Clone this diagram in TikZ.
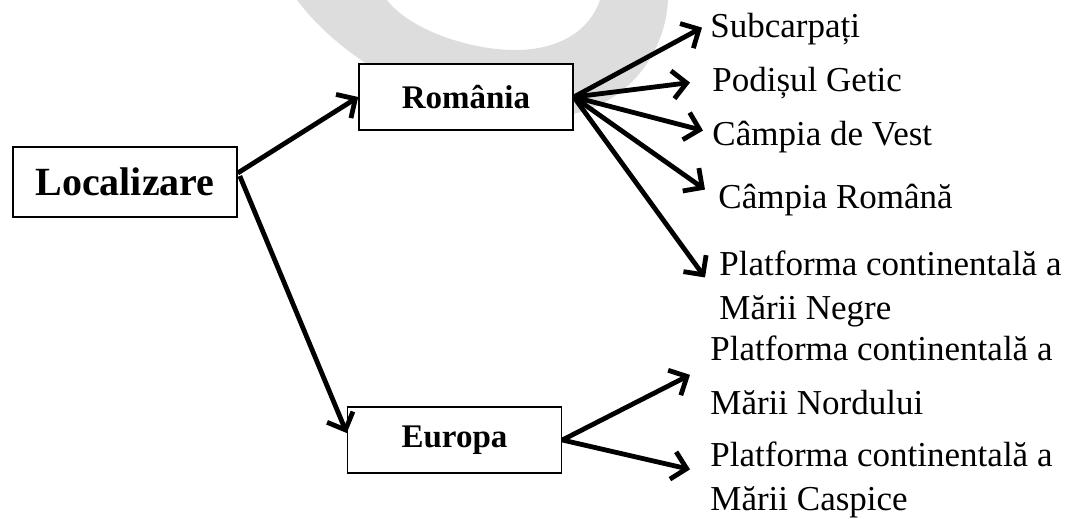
\documentclass[tikz,border=0pt]{standalone}
\usepackage{fontspec}
\setmainfont{Liberation Serif}
\usetikzlibrary{arrows.meta}
\definecolor{watermark}{RGB}{221,221,221}

\begin{document}
\begin{tikzpicture}[x=0.5pt,y=-0.5pt,
  box/.style={draw,line width=0.8pt,fill=white,inner sep=0pt,minimum width=107pt,minimum height=33pt,font=\bfseries\fontsize{16.5}{20}\selectfont},
  lbl/.style={inner sep=0pt,align=left,anchor=base west,font=\fontsize{17.5}{22}\selectfont},
  arr/.style={line width=2.4pt,-{Straight Barb[length=7pt,width=14pt]}}]
  \useasboundingbox (0,0) rectangle (1066,519);
  \fill[watermark] (297,0) .. controls (350,70) and (450,120) .. (560,116)
    .. controls (620,110) and (665,60) .. (668,0) -- (600,0)
    .. controls (590,30) and (560,50) .. (515,50)
    .. controls (470,50) and (410,30) .. (387,0) -- cycle;
  \node[box,minimum width=112pt,minimum height=35pt,font=\bfseries\fontsize{20}{24}\selectfont] (loc) at (125,182) {Localizare};
  \node[box] (ro) at (466,97) {România};
  \node[box] (eu) at (454.5,440) {Europa};
  \node[lbl] (subc) at (710,38) {Subcarpați};
  \node[lbl] (podis) at (712,92) {Podișul Getic};
  \node[lbl] (vest) at (712,146) {Câmpia de Vest};
  \node[lbl] (romana) at (718,208) {Câmpia Română};
  \node[lbl] (negre) at (719,319) {Platforma continentală a\\Mării Negre};
  \node[lbl] (nord) at (710,414) {Platforma continentală a\\[5pt]Mării Nordului};
  \node[lbl] (caspic) at (710,510) {Platforma continentală a\\Mării Caspice};
  \draw[arr] ([shift={(0,-9)}]loc.east) -- (ro.west);
  \draw[arr] ([shift={(2,-6)}]loc.east) -- ([shift={(0,-7)}]eu.west);
  \draw[arr] (ro.east) -- ([shift={(-8,-2)}]subc.west);
  \draw[arr] (ro.east) -- ([shift={(-22,-1)}]podis.west);
  \draw[arr] (ro.east) -- ([shift={(-9,-7)}]vest.west);
  \draw[arr] (ro.east) -- ([shift={(-13,-10)}]romana.west);
  \draw[arr] (ro.east) -- ([shift={(-14,-11)}]negre.west);
  \draw[arr] (eu.east) -- ([shift={(-20,0)}]nord.west);
  \draw[arr] (eu.east) -- ([shift={(-20,-10)}]caspic.west);
\end{tikzpicture}
\end{document}
